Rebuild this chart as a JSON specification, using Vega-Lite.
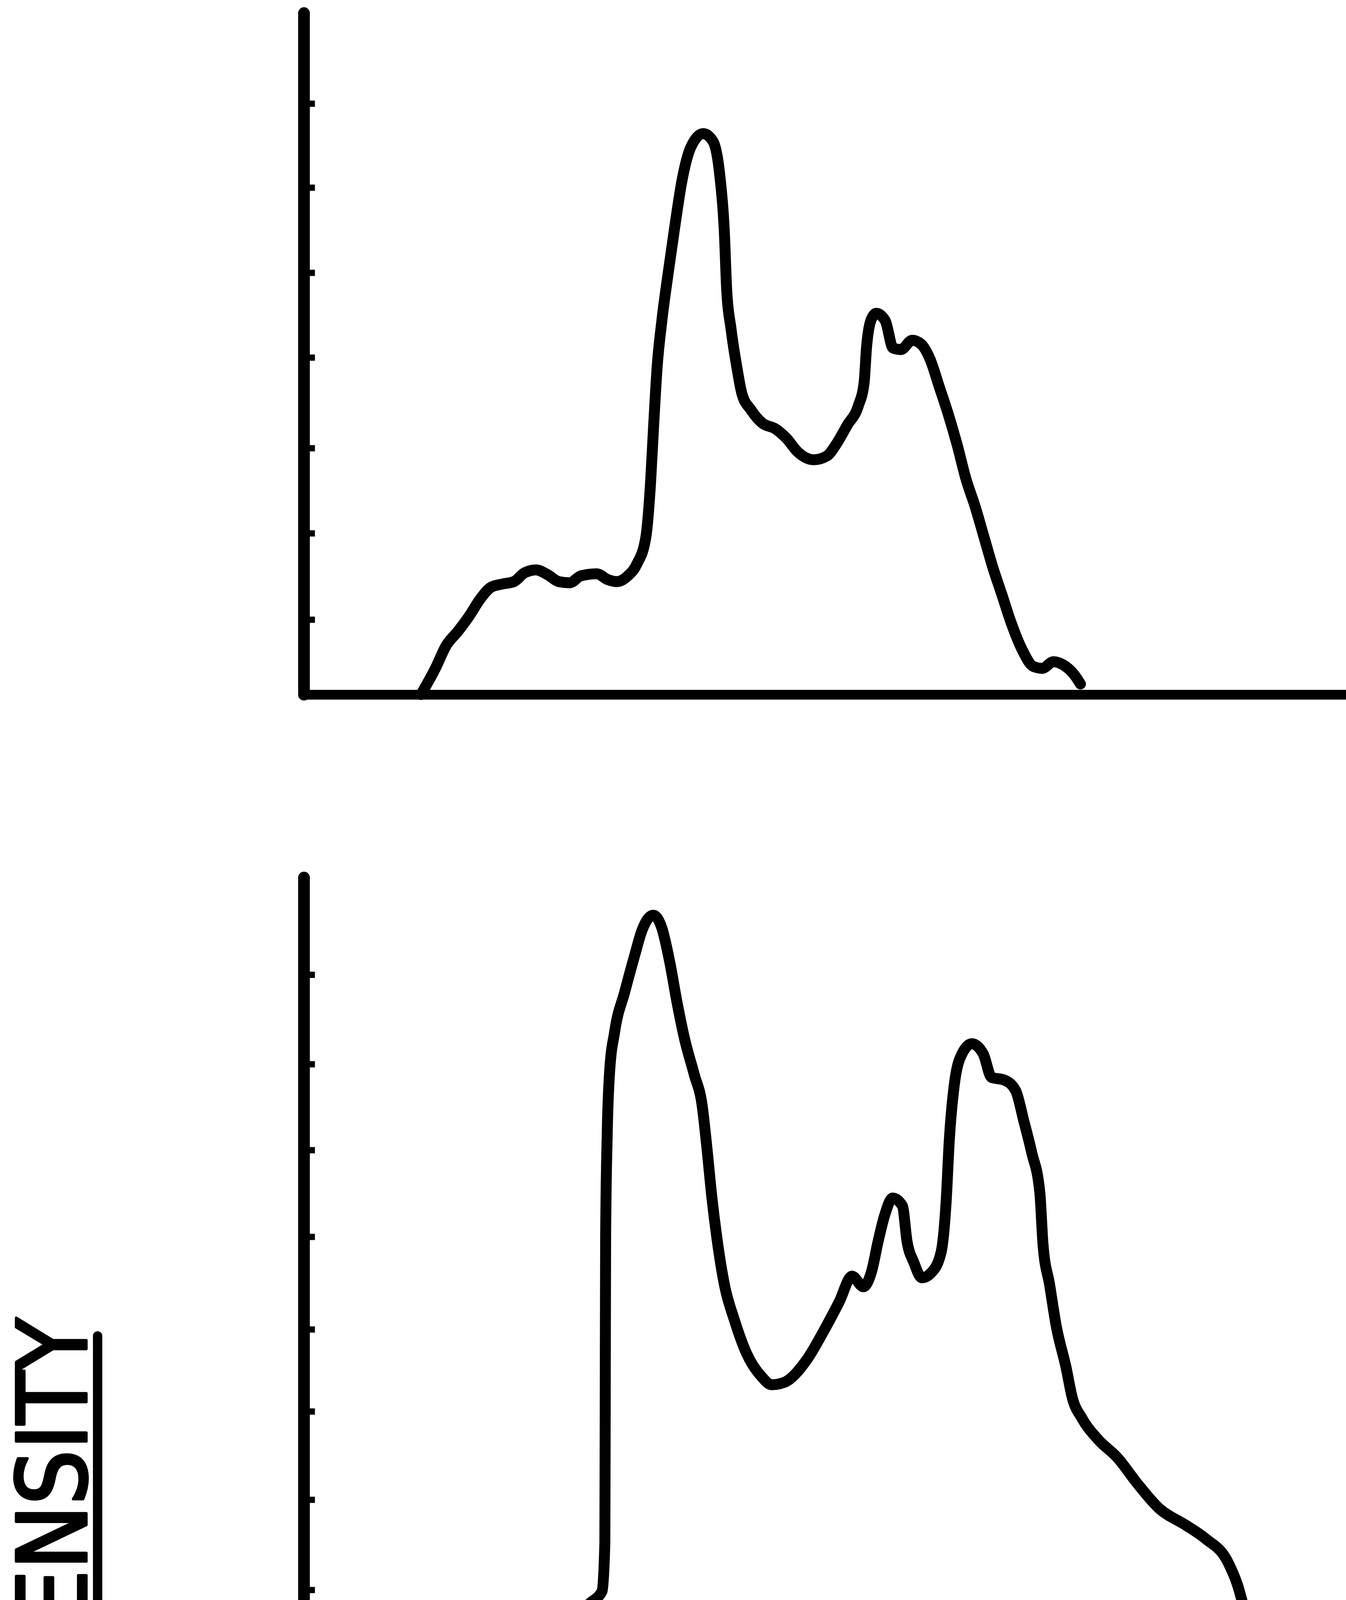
{
  "$schema": "https://vega.github.io/schema/vega-lite/v6.json",
  "background": "white",
  "padding": {"left": 22, "top": 33, "right": 0, "bottom": 0},
  "bounds": "flush",
  "spacing": 468,
  "config": {"view": {"stroke": null}, "axis": {"grid": false}, "style": {"guide-title": {"stroke": "black", "strokeWidth": 7, "strokeJoin": "round"}}},
  "datasets": {
    "p1": [
      {"x":3.00,"y":0.00},{"x":3.37,"y":0.67},{"x":3.65,"y":1.26},{"x":3.94,"y":1.61},{"x":4.23,"y":2.00},{"x":4.52,"y":2.45},{"x":4.80,"y":2.75},{"x":5.09,"y":2.83},{"x":5.38,"y":2.89},{"x":5.66,"y":3.12},{"x":5.95,"y":3.19},{"x":6.24,"y":3.07},{"x":6.53,"y":2.89},{"x":6.81,"y":2.86},{"x":7.10,"y":3.04},{"x":7.50,"y":3.09},{"x":7.79,"y":2.94},{"x":8.02,"y":2.89},{"x":8.30,"y":3.04},{"x":8.53,"y":3.34},{"x":8.76,"y":4.03},{"x":8.88,"y":5.42},{"x":8.96,"y":6.90},{"x":9.05,"y":8.40},{"x":9.17,"y":9.57},{"x":9.34,"y":10.85},{"x":9.51,"y":12.04},{"x":9.68,"y":13.13},{"x":9.91,"y":14.01},{"x":10.23,"y":14.36},{"x":10.48,"y":14.16},{"x":10.65,"y":13.32},{"x":10.77,"y":11.84},{"x":10.83,"y":10.36},{"x":10.94,"y":9.37},{"x":11.09,"y":8.38},{"x":11.22,"y":7.70},{"x":11.45,"y":7.29},{"x":11.74,"y":6.95},{"x":12.08,"y":6.80},{"x":12.37,"y":6.55},{"x":12.65,"y":6.21},{"x":13.06,"y":6.01},{"x":13.40,"y":6.11},{"x":13.63,"y":6.40},{"x":13.92,"y":6.90},{"x":14.20,"y":7.39},{"x":14.35,"y":7.99},{"x":14.41,"y":8.87},{"x":14.52,"y":9.57},{"x":14.66,"y":9.76},{"x":14.89,"y":9.57},{"x":15.09,"y":8.87},{"x":15.29,"y":8.83},{"x":15.58,"y":9.07},{"x":15.81,"y":8.97},{"x":16.04,"y":8.58},{"x":16.27,"y":7.89},{"x":16.50,"y":7.19},{"x":16.73,"y":6.40},{"x":16.96,"y":5.51},{"x":17.19,"y":4.82},{"x":17.42,"y":4.03},{"x":17.65,"y":3.24},{"x":17.88,"y":2.55},{"x":18.11,"y":1.85},{"x":18.39,"y":1.16},{"x":18.68,"y":0.72},{"x":18.91,"y":0.67},{"x":19.20,"y":0.84},{"x":19.43,"y":0.77},{"x":19.72,"y":0.52},{"x":19.89,"y":0.27}
    ],
    "p2": [
      {"x":3.75,"y":0.00},{"x":4.13,"y":0.43},{"x":4.52,"y":0.81},{"x":4.96,"y":1.06},{"x":5.41,"y":0.96},{"x":5.60,"y":0.79},{"x":5.86,"y":0.52},{"x":6.18,"y":0.72},{"x":6.37,"y":1.04},{"x":6.69,"y":1.03},{"x":7.01,"y":1.28},{"x":7.32,"y":1.61},{"x":7.64,"y":1.93},{"x":7.71,"y":3.17},{"x":7.72,"y":7.09},{"x":7.73,"y":11.01},{"x":7.77,"y":13.62},{"x":7.83,"y":15.19},{"x":7.96,"y":16.24},{"x":8.22,"y":17.27},{"x":8.47,"y":18.19},{"x":8.66,"y":18.84},{"x":8.95,"y":19.23},{"x":9.17,"y":18.90},{"x":9.37,"y":18.04},{"x":9.56,"y":16.99},{"x":9.75,"y":16.07},{"x":10.00,"y":15.15},{"x":10.20,"y":14.37},{"x":10.32,"y":13.31},{"x":10.45,"y":12.01},{"x":10.58,"y":10.96},{"x":10.77,"y":9.78},{"x":11.03,"y":8.86},{"x":11.34,"y":8.01},{"x":11.73,"y":7.41},{"x":11.98,"y":7.21},{"x":12.30,"y":7.27},{"x":12.88,"y":7.85},{"x":13.30,"y":8.56},{"x":13.71,"y":9.33},{"x":14.04,"y":9.99},{"x":14.33,"y":9.72},{"x":14.54,"y":10.11},{"x":14.71,"y":10.89},{"x":14.87,"y":11.53},{"x":15.08,"y":11.99},{"x":15.33,"y":11.79},{"x":15.45,"y":10.87},{"x":15.62,"y":10.35},{"x":15.83,"y":9.95},{"x":16.07,"y":10.08},{"x":16.32,"y":10.60},{"x":16.45,"y":11.90},{"x":16.53,"y":13.46},{"x":16.66,"y":14.90},{"x":16.86,"y":15.69},{"x":17.11,"y":15.94},{"x":17.40,"y":15.68},{"x":17.61,"y":15.08},{"x":17.94,"y":15.01},{"x":18.23,"y":14.74},{"x":18.44,"y":13.96},{"x":18.64,"y":13.16},{"x":18.85,"y":12.12},{"x":18.93,"y":10.81},{"x":19.10,"y":9.77},{"x":19.27,"y":8.71},{"x":19.52,"y":7.66},{"x":19.68,"y":6.88},{"x":19.93,"y":6.35},{"x":20.34,"y":5.81},{"x":20.84,"y":5.34},{"x":21.34,"y":4.69},{"x":21.92,"y":4.03},{"x":22.58,"y":3.62},{"x":23.08,"y":3.28},{"x":23.66,"y":2.68},{"x":23.91,"y":2.09},{"x":24.16,"y":1.18},{"x":24.45,"y":0.25}
    ],
    "p3": [
      {"x":1.70,"y":0.00},{"x":1.98,"y":0.55},{"x":2.33,"y":0.87},{"x":2.68,"y":1.17},{"x":3.11,"y":1.17},{"x":3.46,"y":1.32},{"x":3.81,"y":1.64},{"x":4.23,"y":1.96},{"x":4.58,"y":2.15},{"x":4.89,"y":2.21},{"x":5.03,"y":1.83},{"x":5.21,"y":1.45},{"x":5.49,"y":1.32},{"x":5.91,"y":1.51},{"x":6.26,"y":1.38},{"x":6.54,"y":1.57},{"x":6.82,"y":2.47},{"x":7.10,"y":3.49},{"x":7.24,"y":5.16},{"x":7.35,"y":7.07},{"x":7.45,"y":8.99},{"x":7.56,"y":10.91},{"x":7.66,"y":12.83},{"x":7.77,"y":14.36},{"x":7.91,"y":15.77},{"x":8.05,"y":17.05},{"x":8.26,"y":18.07},{"x":8.51,"y":18.52},{"x":8.86,"y":18.39},{"x":9.21,"y":17.94},{"x":9.49,"y":17.43},{"x":9.70,"y":16.66},{"x":9.91,"y":15.38},{"x":10.05,"y":14.11},{"x":10.19,"y":12.83},{"x":10.37,"y":11.55},{"x":10.47,"y":10.14},{"x":10.61,"y":8.86},{"x":10.82,"y":7.97},{"x":11.17,"y":7.65},{"x":11.52,"y":7.20},{"x":11.72,"y":7.04},{"x":12.00,"y":6.68},{"x":12.42,"y":6.27},{"x":12.70,"y":6.42},{"x":12.91,"y":7.06},{"x":13.05,"y":7.70},{"x":13.26,"y":7.77},{"x":13.54,"y":7.70},{"x":13.82,"y":7.89},{"x":14.03,"y":8.34},{"x":14.18,"y":9.24},{"x":14.39,"y":9.68},{"x":14.67,"y":9.47},{"x":14.88,"y":8.96},{"x":15.09,"y":8.45},{"x":15.37,"y":8.00},{"x":15.65,"y":7.94},{"x":15.93,"y":8.19},{"x":16.10,"y":8.71},{"x":16.17,"y":9.86},{"x":16.35,"y":10.88},{"x":16.56,"y":11.65},{"x":16.77,"y":11.26},{"x":16.98,"y":10.69},{"x":17.26,"y":10.50},{"x":17.58,"y":10.82},{"x":17.75,"y":10.50},{"x":17.96,"y":9.86},{"x":18.10,"y":9.09},{"x":18.28,"y":7.68},{"x":18.45,"y":6.40},{"x":18.67,"y":4.87},{"x":18.88,"y":3.46},{"x":19.09,"y":2.31},{"x":19.37,"y":1.51},{"x":19.65,"y":1.13},{"x":19.96,"y":1.07},{"x":20.17,"y":1.39},{"x":20.49,"y":1.67},{"x":20.84,"y":1.39},{"x":21.19,"y":0.94},{"x":21.54,"y":0.43},{"x":21.75,"y":0.04}
    ]
  },
  "vconcat": [
    {
      "width": 2669,
      "height": 1745,
      "data": {"name": "p1"},
      "mark": {"type": "line", "color": "black", "strokeWidth": 28, "interpolate": "monotone", "strokeCap": "round", "strokeJoin": "round"},
      "encoding": {
        "x": {"field": "x", "type": "quantitative", "scale": {"domain": [0, 26.69], "nice": false, "zero": false},
              "axis": {"title": null, "labels": false, "ticks": false, "domainColor": "black", "domainWidth": 25}},
        "y": {"field": "y", "type": "quantitative", "scale": {"domain": [0, 17.45], "nice": false},
              "axis": {"title": null, "labels": false, "values": [1.92, 4.13, 6.31, 8.63, 10.8, 12.98, 15.13], "tickSize": -28, "tickWidth": 16, "tickColor": "black", "domainColor": "black", "domainWidth": 30, "domainCap": "round"}}
      }
    },
    {
      "width": 2669,
      "height": 2020,
      "layer": [
        {
          "data": {"name": "p2"},
          "mark": {"type": "line", "color": "black", "strokeWidth": 28, "interpolate": "monotone", "strokeCap": "round", "strokeJoin": "round"},
          "encoding": {
            "x": {"field": "x", "type": "quantitative", "scale": {"domain": [0, 26.69], "nice": false, "zero": false},
                  "axis": {"title": null, "labels": false, "ticks": false, "domainColor": "black", "domainWidth": 25}},
            "y": {"field": "y", "type": "quantitative", "scale": {"domain": [0, 20.2], "nice": false},
                  "axis": {"title": "DENSITY", "titleFont": "DejaVu Sans Condensed, DejaVu Sans, sans-serif", "titleFontSize": 247, "titleFontWeight": "normal", "titleColor": "black", "titleAngle": 270, "titleBaseline": "alphabetic", "titleAlign": "center", "titleX": -558, "titleY": 1606, "labels": false, "values": [1.96, 4.27, 6.53, 8.63, 11.0, 13.22, 15.42, 17.71], "tickSize": -28, "tickWidth": 16, "tickColor": "black", "domainColor": "black", "domainWidth": 30, "domainCap": "round"}}
          }
        },
        {
          "data": {"values": [{"label": "underline"}]},
          "mark": {"type": "rule", "color": "black", "strokeWidth": 24, "strokeCap": "round", "clip": false},
          "encoding": {
            "x": {"datum": -5.28, "type": "quantitative"},
            "y": {"datum": -0.52, "type": "quantitative"},
            "y2": {"datum": 8.46}
          }
        }
      ]
    },
    {
      "width": 2669,
      "height": 1998,
      "data": {"name": "p3"},
      "mark": {"type": "line", "color": "black", "strokeWidth": 28, "interpolate": "monotone", "strokeCap": "round", "strokeJoin": "round"},
      "encoding": {
        "x": {"field": "x", "type": "quantitative", "scale": {"domain": [0, 26.69], "nice": false, "zero": false},
              "axis": {"title": null, "labels": false, "ticks": false, "domainColor": "black", "domainWidth": 25}},
        "y": {"field": "y", "type": "quantitative", "scale": {"domain": [0, 19.98], "nice": false},
              "axis": {"title": null, "labels": false, "values": [2.06, 4.34, 6.65, 8.86, 11.05, 13.17, 15.48, 17.63], "tickSize": -28, "tickWidth": 16, "tickColor": "black", "domainColor": "black", "domainWidth": 30, "domainCap": "round"}}
      }
    }
  ]
}
